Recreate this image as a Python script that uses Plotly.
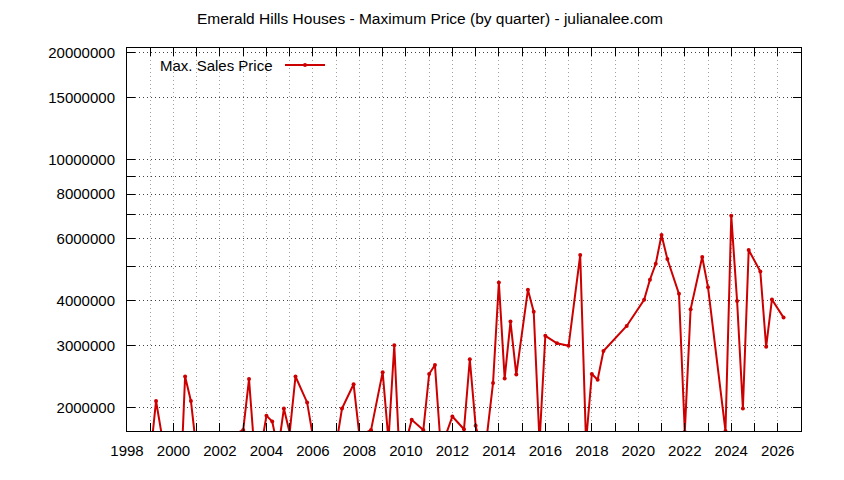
# ================================================================
# 0. Section: IMPORTS
# ================================================================
import plotly.graph_objects as go


# ================================================================
# 1. Section: INPUTS
# ================================================================
TITLE: str = "Emerald Hills Houses - Maximum Price (by quarter) - julianalee.com"
SERIES_NAME: str = "Max. Sales Price"

# quarter (as fractional year) -> max sale price
QUARTERS: list = [
    1999.00, 1999.25, 1999.50, 2000.25, 2000.50, 2000.75, 2001.00,
    2003.00, 2003.25, 2003.50, 2003.75, 2004.00, 2004.25, 2004.50,
    2004.75, 2005.00, 2005.25, 2005.75, 2006.00, 2007.00, 2007.25,
    2007.75, 2008.00, 2008.50, 2009.00, 2009.25, 2009.50, 2009.75,
    2010.00, 2010.25, 2010.75, 2011.00, 2011.25, 2011.50, 2011.75,
    2012.00, 2012.50, 2012.75, 2013.00, 2013.25, 2013.50, 2013.75,
    2014.00, 2014.25, 2014.50, 2014.75, 2015.25, 2015.50, 2015.75,
    2016.00, 2016.50, 2017.00, 2017.50, 2017.75, 2018.00, 2018.25,
    2018.50, 2019.50, 2020.25, 2020.50, 2020.75, 2021.00, 2021.25,
    2021.75, 2022.00, 2022.25, 2022.75, 2023.00, 2023.75, 2024.00,
    2024.25, 2024.50, 2024.75, 2025.25, 2025.50, 2025.75, 2026.25,
]
MAX_PRICE: list = [
    1450000, 2090000, 1670000, 1000000, 2450000, 2090000, 1500000,
    1730000, 2410000, 1460000, 1520000, 1900000, 1830000, 1520000,
    1990000, 1700000, 2450000, 2070000, 1660000, 1570000, 1990000,
    2330000, 1670000, 1730000, 2520000, 1620000, 3000000, 1340000,
    1600000, 1850000, 1730000, 2490000, 2640000, 1550000, 1700000,
    1890000, 1740000, 2740000, 1780000, 1540000, 1700000, 2350000,
    4510000, 2420000, 3500000, 2480000, 4300000, 3730000, 1600000,
    3190000, 3040000, 2990000, 5390000, 1600000, 2490000, 2400000,
    2890000, 3400000, 4030000, 4590000, 5090000, 6140000, 5250000,
    4190000, 1710000, 3790000, 5320000, 4370000, 1720000, 6950000,
    4000000, 1990000, 5570000, 4840000, 2970000, 4040000, 3590000,
]

YEAR_TICKS: list = list(range(1998, 2028))
YEAR_LABELS: list = [str(y) if y % 2 == 0 and y < 2027 else "" for y in YEAR_TICKS]

PRICE_TICKS: list = [2000000, 3000000, 4000000, 5000000, 6000000, 7000000,
                     8000000, 9000000, 10000000, 15000000, 20000000]
PRICE_LABELS: list = ["2000000", "3000000", "4000000", "", "6000000", "",
                      "8000000", "", "10000000", "15000000", "20000000"]

RED: str = "#cc0000"
FONT: str = "Liberation Sans"


# ================================================================
# 2. Section: MAIN
# ================================================================
if __name__ == "__main__":
    fig = go.Figure()

    fig.add_trace(go.Scatter(
        x=QUARTERS,
        y=MAX_PRICE,
        mode="lines+markers",
        line=dict(color=RED, width=2),
        marker=dict(color=RED, size=4),
        name=SERIES_NAME,
        showlegend=False,
    ))

    # gnuplot-style key: text on the left, sample on the right
    fig.add_annotation(
        x=0.2196, y=0.9556, xref="paper", yref="paper",
        xanchor="right", yanchor="middle", showarrow=False,
        text=SERIES_NAME, font=dict(family=FONT, size=15, color="black"),
    )
    fig.add_shape(type="line", xref="paper", yref="paper",
                  x0=0.2344, x1=0.2938, y0=0.9556, y1=0.9556,
                  line=dict(color=RED, width=2))
    fig.add_shape(type="circle", xref="paper", yref="paper",
                  x0=0.2611, x1=0.2671, y0=0.9504, y1=0.9608,
                  fillcolor=RED, line=dict(color=RED, width=0))

    axis_common = dict(
        showline=True, linecolor="black", linewidth=1, mirror="ticks",
        ticks="inside", tickcolor="black", ticklen=8, tickwidth=1,
        showgrid=True, griddash="1px,3px", zeroline=False,
        tickfont=dict(family=FONT, size=15, color="black"),
    )

    # page body has an 8px margin, so the margins are shifted to compensate
    fig.update_layout(
        width=844, height=480,
        margin=dict(l=119, r=51, t=40, b=57),
        paper_bgcolor="white",
        plot_bgcolor="white",
        title=dict(text=TITLE, x=0.5, xanchor="center", y=0.977, yanchor="middle",
                   font=dict(family=FONT, size=15.5, color="black")),
        xaxis=dict(
            range=[1998, 2027],
            tickmode="array", tickvals=YEAR_TICKS, ticktext=YEAR_LABELS,
            gridcolor="#a0a0a0", gridwidth=1,
            ticklabelstandoff=6,
            **axis_common,
        ),
        yaxis=dict(
            type="log",
            range=[6.2355, 7.3151],
            tickmode="array", tickvals=PRICE_TICKS, ticktext=PRICE_LABELS,
            gridcolor="#404040", gridwidth=1,
            ticklabelstandoff=8,
            **axis_common,
        ),
    )

    fig.write_html("out.html")
